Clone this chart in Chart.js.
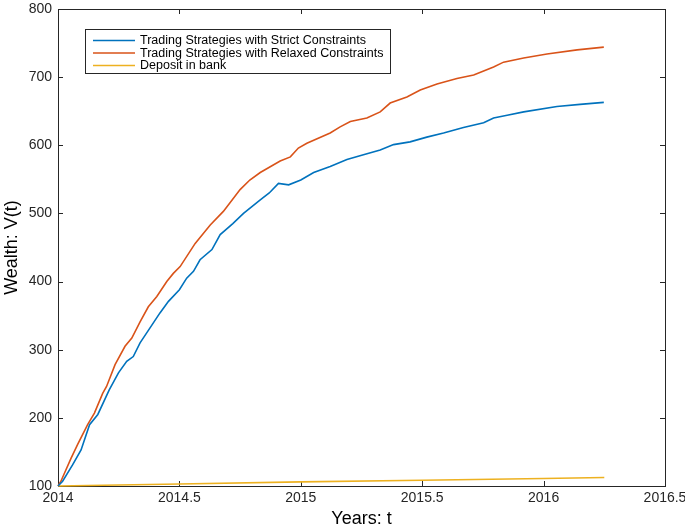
<!DOCTYPE html>
<html>
<head>
<meta charset="utf-8">
<script src="https://cdn.jsdelivr.net/npm/chart.js@4/dist/chart.umd.min.js"></script>
<style>
  html, body { margin: 0; padding: 0; background: #fff; }
  #wrap { width: 685px; height: 532px; }
</style>
</head>
<body>
<div id="wrap"><canvas id="chart"></canvas></div>
<script>
// --- Data ---
const seriesLabels = [
    'Trading Strategies with Strict Constraints',
    'Trading Strategies with Relaxed Constraints',
    'Deposit in bank'
];

const strictT = [2014.000, 2014.019, 2014.06, 2014.095, 2014.13, 2014.164, 2014.211, 2014.249, 2014.283, 2014.31,
    2014.338, 2014.379, 2014.42, 2014.455, 2014.5, 2014.53, 2014.558, 2014.585, 2014.634, 2014.668,
    2014.72, 2014.764, 2014.833, 2014.87, 2014.908, 2014.95, 2015.0, 2015.053, 2015.121, 2015.19,
    2015.258, 2015.327, 2015.382, 2015.45, 2015.519, 2015.588, 2015.67, 2015.753, 2015.794, 2015.85,
    2015.918, 2016.055, 2016.15, 2016.248];
const strictV = [100, 107, 131, 153, 190, 205, 241, 266, 283, 290,
    310, 332, 354, 371, 388, 405, 415, 432, 447, 469,
    485, 500, 520, 530, 544, 542, 549, 560, 569, 579,
    586, 593, 601, 605, 612, 618, 626, 633, 640, 644,
    649, 657, 660, 663];

const relaxedT = [2014.000, 2014.012, 2014.054, 2014.081, 2014.122, 2014.15, 2014.184, 2014.2, 2014.235, 2014.276,
    2014.304, 2014.338, 2014.372, 2014.407, 2014.448, 2014.475, 2014.503, 2014.565, 2014.627, 2014.681,
    2014.75, 2014.79, 2014.833, 2014.915, 2014.957, 2014.99, 2015.025, 2015.121, 2015.162, 2015.204,
    2015.272, 2015.327, 2015.368, 2015.437, 2015.492, 2015.561, 2015.643, 2015.712, 2015.794, 2015.835,
    2015.918, 2016.014, 2016.138, 2016.248];
const relaxedV = [100, 107, 141, 161, 190, 207, 236, 246, 278, 305,
    317, 341, 363, 378, 400, 412, 422, 456, 483, 503,
    535, 549, 560, 577, 583, 596, 603, 618, 627, 635,
    640, 649, 662, 671, 681, 690, 698, 703, 715, 722,
    728, 734, 740, 744];

const depositT = [2014, 2014.5, 2015, 2015.5, 2016, 2016.25];
const depositV = [100, 103, 106, 108.5, 111, 112.5];

const xMin = 2014, xMax = 2016.5, xStep = 0.5;
const yMin = 100, yMax = 800, yStep = 100;

const colors = ['#0072BD', '#D95319', '#EDB120'];
const axisColor = '#262626';
const fontFamily = '"Liberation Sans", Arial, Helvetica, sans-serif';

function toPoints(ts, vs) {
    return ts.map((t, i) => ({ x: t, y: vs[i] }));
}

// --- MATLAB style box with inward ticks on all four sides ---
const boxPlugin = {
    id: 'matlabBox',
    beforeDatasetsDraw(chart) {
        const { ctx, chartArea: a, scales } = chart;
        const tick = 5;
        ctx.save();
        ctx.strokeStyle = axisColor;
        ctx.lineWidth = 1;
        ctx.strokeRect(a.left + 0.5, a.top + 0.5, a.right - a.left, a.bottom - a.top);
        ctx.beginPath();
        scales.x.ticks.forEach(t => {
            const px = Math.round(scales.x.getPixelForValue(t.value)) + 0.5;
            ctx.moveTo(px, a.bottom); ctx.lineTo(px, a.bottom - tick);
            ctx.moveTo(px, a.top); ctx.lineTo(px, a.top + tick);
        });
        scales.y.ticks.forEach(t => {
            const py = Math.round(scales.y.getPixelForValue(t.value)) + 0.5;
            ctx.moveTo(a.left, py); ctx.lineTo(a.left + tick, py);
            ctx.moveTo(a.right, py); ctx.lineTo(a.right - tick, py);
        });
        ctx.stroke();
        ctx.restore();
    }
};

// --- Legend box in the upper left, drawn from the dataset labels ---
const legendPlugin = {
    id: 'boxLegend',
    afterDraw(chart) {
        const { ctx } = chart;
        const x0 = 85.5, y0 = 29.5, w = 305, h = 44;
        ctx.save();
        ctx.fillStyle = '#fff';
        ctx.fillRect(x0, y0, w, h);
        ctx.strokeStyle = axisColor;
        ctx.lineWidth = 1;
        ctx.strokeRect(x0, y0, w, h);
        ctx.font = '12.5px ' + fontFamily;
        ctx.textBaseline = 'middle';
        chart.data.datasets.forEach((ds, i) => {
            const y = y0 + 11 + i * 12.5;
            ctx.strokeStyle = ds.borderColor;
            ctx.lineWidth = 1.6;
            ctx.beginPath();
            ctx.moveTo(93, y); ctx.lineTo(135, y);
            ctx.stroke();
            ctx.fillStyle = '#000';
            ctx.fillText(ds.label, 140, y + 0.5);
        });
        ctx.restore();
    }
};

const datasets = [
    toPoints(strictT, strictV),
    toPoints(relaxedT, relaxedV),
    toPoints(depositT, depositV)
].map((pts, i) => ({
    label: seriesLabels[i],
    data: pts,
    borderColor: colors[i],
    backgroundColor: colors[i],
    borderWidth: 1.6,
    pointRadius: 0,
    tension: 0,
    clip: 3
}));

new Chart(document.getElementById('chart'), {
    type: 'line',
    data: { datasets },
    options: {
        responsive: true,
        maintainAspectRatio: false,
        animation: false,
        layout: { padding: { top: 9, right: 20, bottom: 0, left: 0 } },
        plugins: { legend: { display: false }, tooltip: { enabled: false } },
        scales: {
            x: {
                type: 'linear',
                min: xMin, max: xMax,
                grid: { display: false, drawTicks: false },
                border: { display: false },
                ticks: {
                    stepSize: xStep,
                    padding: 4,
                    color: axisColor,
                    maxRotation: 0,
                    font: { family: fontFamily, size: 14 },
                    callback: v => String(v)
                },
                title: {
                    display: true,
                    text: 'Years: t',
                    color: '#000',
                    font: { family: fontFamily, size: 18 },
                    padding: { top: 0, bottom: 2 }
                },
                afterFit: s => {
                    s.height = 46;
                    s.paddingLeft = 0;
                    s.paddingRight = 0;
                }
            },
            y: {
                type: 'linear',
                min: yMin, max: yMax,
                grid: { display: false, drawTicks: false },
                border: { display: false },
                ticks: {
                    stepSize: yStep,
                    padding: 6,
                    color: axisColor,
                    font: { family: fontFamily, size: 14 },
                    callback: v => String(v)
                },
                title: {
                    display: true,
                    text: 'Wealth: V(t)',
                    color: '#000',
                    font: { family: fontFamily, size: 18 },
                    padding: { top: 1, bottom: 0 }
                },
                afterFit: s => {
                    s.width = 58;
                    s.paddingTop = 0;
                    s.paddingBottom = 0;
                }
            }
        }
    },
    plugins: [boxPlugin, legendPlugin]
});
</script>
</body>
</html>
